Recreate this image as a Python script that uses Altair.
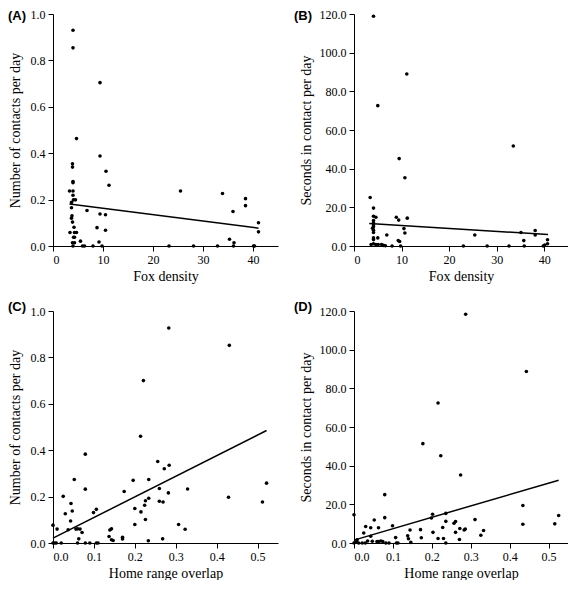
import altair as alt
import pandas as pd

# ---------------- data ----------------
# Panel A: fox density vs number of contacts per day
a_x = [4.0, 4.0, 9.4, 4.7, 9.4, 3.9, 3.9, 10.6, 4.0, 4.0, 11.2, 3.3, 4.0, 25.5, 33.9, 4.0, 4.1, 4.5,
       38.5, 3.7, 3.7, 38.5, 36.0, 6.8, 9.4, 10.5, 3.8, 3.7, 3.9, 41.1, 4.2, 8.8, 10.5, 3.4, 4.3, 4.7,
       41.1, 4.1, 4.3, 5.5, 9.2, 35.3, 36.2, 3.9, 4.3, 4.0, 5.9, 6.3, 8.0, 9.8, 23.2, 28.1, 32.9, 36.1,
       40.3, 40.1]
a_y = [0.93, 0.854, 0.704, 0.463, 0.388, 0.354, 0.340, 0.322, 0.278, 0.273, 0.262, 0.237, 0.237, 0.237,
       0.226, 0.219, 0.199, 0.199, 0.204, 0.188, 0.165, 0.174, 0.149, 0.153, 0.138, 0.135, 0.130, 0.120,
       0.103, 0.100, 0.081, 0.079, 0.068, 0.058, 0.058, 0.058, 0.061, 0.038, 0.038, 0.021, 0.017, 0.029,
       0.014, 0.014, 0.014, 0.0, 0.0, 0.0, 0.0, 0.0, 0.0, 0.0, 0.0, 0.0, 0.0, 0.0]
a_fit_x = [3.3, 41.1]
a_fit_y = [0.181, 0.077]

# Panel B: fox density vs seconds in contact per day
b_x = [4.1, 11.1, 5.0, 33.5, 9.5, 10.7, 3.4, 4.1, 4.1, 4.6, 8.9, 11.2, 9.4, 4.1, 4.1, 4.1, 4.1, 3.9,
       4.1, 4.1, 10.5, 5.0, 6.9, 10.7, 25.4, 35.1, 38.1, 38.1, 40.7, 9.3, 9.6, 35.7, 4.1, 4.1, 3.6, 4.1,
       4.6, 5.1, 5.8, 6.2, 6.6, 8.0, 9.8, 23.0, 28.0, 32.6, 35.8, 39.8, 40.1, 40.7]
b_y = [118.8, 89.0, 72.6, 51.7, 45.2, 35.3, 25.1, 19.6, 15.4, 14.9, 14.9, 14.4, 13.4, 13.2, 12.0, 10.9,
       9.9, 9.2, 8.2, 7.0, 9.0, 4.2, 5.7, 6.7, 5.7, 7.0, 8.0, 5.7, 3.2, 2.8, 2.3, 2.8, 4.2, 3.3, 0.8, 1.2,
       0.7, 0.8, 0.8, 0.3, 0.1, 0.0, 0.0, 0.0, 0.0, 0.0, 0.0, 0.0, 0.5, 1.2]
b_fit_x = [3.2, 40.8]
b_fit_y = [11.7, 5.9]

# Panel C: home range overlap vs number of contacts per day
c_x = [0.283, 0.431, 0.221, 0.214, 0.079, 0.256, 0.284, 0.272, 0.052, 0.196, 0.234, 0.079, 0.174, 0.260,
       0.329, 0.282, 0.522, 0.025, 0.429, 0.234, 0.226, 0.260, 0.269, 0.512, 0.044, 0.224, 0.200, 0.106,
       0.047, 0.215, 0.099, 0.030, 0.043, 0.226, 0.0, 0.200, 0.307, 0.010, 0.037, 0.056, 0.060, 0.066,
       0.071, 0.323, 0.143, 0.139, 0.137, 0.170, 0.170, 0.143, 0.147, 0.063, 0.233, 0.268, 0.0, 0.004,
       0.008, 0.020, 0.060, 0.079, 0.090, 0.106, 0.110]
c_y = [0.927, 0.852, 0.700, 0.460, 0.383, 0.351, 0.335, 0.320, 0.274, 0.270, 0.274, 0.232, 0.222, 0.235,
       0.233, 0.216, 0.258, 0.201, 0.197, 0.193, 0.182, 0.180, 0.177, 0.177, 0.170, 0.163, 0.149, 0.145,
       0.138, 0.134, 0.131, 0.126, 0.095, 0.101, 0.077, 0.080, 0.080, 0.060, 0.057, 0.060, 0.061, 0.060,
       0.045, 0.059, 0.061, 0.056, 0.028, 0.025, 0.017, 0.014, 0.011, 0.018, 0.010, 0.018, 0.0, 0.0,
       0.0, 0.0, 0.0, 0.0, 0.0, 0.0, 0.0]
c_fit_x = [0.0, 0.522]
c_fit_y = [0.021, 0.485]

# Panel D: home range overlap vs seconds in contact per day
d_x = [0.287, 0.443, 0.216, 0.177, 0.223, 0.274, 0.079, 0.434, 0.0, 0.526, 0.202, 0.236, 0.079, 0.199,
       0.311, 0.052, 0.236, 0.261, 0.257, 0.434, 0.516, 0.099, 0.030, 0.228, 0.043, 0.063, 0.272, 0.286,
       0.283, 0.144, 0.171, 0.203, 0.261, 0.333, 0.025, 0.326, 0.043, 0.138, 0.107, 0.140, 0.173, 0.216,
       0.230, 0.271, 0.035, 0.047, 0.059, 0.063, 0.069, 0.074, 0.004, 0.008, 0.007, 0.0, 0.012, 0.021,
       0.029, 0.082, 0.090, 0.109, 0.113, 0.146, 0.236]
d_y = [118.3, 88.7, 72.4, 51.4, 45.1, 35.2, 25.0, 19.4, 14.6, 14.2, 14.9, 15.3, 13.1, 12.9, 12.1, 11.9,
       11.2, 11.1, 10.2, 9.7, 9.9, 8.9, 8.5, 8.0, 7.9, 7.9, 7.5, 7.2, 6.7, 6.7, 6.9, 5.5, 5.5, 6.5, 5.2,
       4.0, 3.5, 3.7, 2.8, 2.2, 2.7, 2.3, 2.3, 1.8, 1.0, 0.9, 0.8, 0.8, 1.0, 0.8, 1.0, 1.7, 0.5, 0.0,
       0.0, 0.0, 0.0, 0.0, 0.0, 0.0, 0.0, 0.3, 0.0]
d_fit_x = [0.0, 0.526]
d_fit_y = [1.5, 32.5]

fox_ticks = [0, 10, 20, 30, 40]
overlap_ticks = [0.0, 0.1, 0.2, 0.3, 0.4, 0.5]
count_ticks = [0.0, 0.2, 0.4, 0.6, 0.8, 1.0]
seconds_ticks = [0, 20, 40, 60, 80, 100, 120]

SERIF = "Liberation Serif"
H = 232


def panel(xs, ys, fx, fy, xdom, ydom, xticks, yticks, xfmt, xtitle, ytitle, tag, width,
          tag_x, tag_y, title_pad):
    pts = pd.DataFrame({"x": xs, "y": ys})
    fit = pd.DataFrame({"x": fx, "y": fy})
    xs_ = alt.Scale(domain=xdom, nice=False, zero=False)
    ys_ = alt.Scale(domain=ydom, nice=False)
    common = dict(labelFont=SERIF, labelFontSize=12, titleFont=SERIF, titleFontSize=14,
                  labelOverlap=False, labelColor="black", titleColor="black",
                  titleFontWeight="normal", grid=False, tickCount=len(yticks))
    xax = alt.Axis(values=xticks, format=xfmt, title=xtitle, titlePadding=4, **common)
    yax = alt.Axis(values=yticks, format=".1f", title=ytitle, titlePadding=title_pad, **common)
    points = alt.Chart(pts).mark_circle(size=13, color="black", opacity=1).encode(
        x=alt.X("x:Q", scale=xs_, axis=xax),
        y=alt.Y("y:Q", scale=ys_, axis=yax),
    )
    line = alt.Chart(fit).mark_line(color="black", strokeWidth=1.5).encode(
        x=alt.X("x:Q", scale=xs_, axis=xax),
        y=alt.Y("y:Q", scale=ys_, axis=yax),
    )
    label = alt.Chart(pd.DataFrame({"t": [tag]})).mark_text(
        font="Liberation Sans", fontSize=13, fontWeight="bold", align="left",
        baseline="middle", color="black",
    ).encode(text="t:N", x=alt.value(tag_x), y=alt.value(tag_y))
    return alt.layer(points, line, label).properties(width=width, height=H)


pa = panel(a_x, a_y, a_fit_x, a_fit_y, [0, 45], [0, 1.0], fox_ticks, count_ticks, "d",
           "Fox density", "Number of contacts per day", "(A)", 225, -45, 2, 8)
pb = panel(b_x, b_y, b_fit_x, b_fit_y, [0, 45], [0, 120], fox_ticks, seconds_ticks, "d",
           "Fox density", "Seconds in contact per day", "(B)", 214, -60, 2, 6)
pc = panel(c_x, c_y, c_fit_x, c_fit_y, [0, 0.55], [0, 1.0], overlap_ticks, count_ticks, ".1f",
           "Home range overlap", "Number of contacts per day", "(C)", 225, -45, -4, 8)
pd_ = panel(d_x, d_y, d_fit_x, d_fit_y, [0, 0.55], [0, 120], overlap_ticks, seconds_ticks, ".1f",
            "Home range overlap", "Seconds in contact per day", "(D)", 214, -60, -4, 6)

row1 = alt.hconcat(pa, pb, spacing=16)
row2 = alt.hconcat(pc, pd_, spacing=16)

chart = alt.vconcat(row1, row2, spacing=18).properties(padding=0).configure_view(
    stroke=None
).configure_axis(
    domainColor="black", tickColor="black", tickSize=5, labelPadding=3,
)

chart.save("out.html", embed_options={"renderer": "svg", "actions": False})
